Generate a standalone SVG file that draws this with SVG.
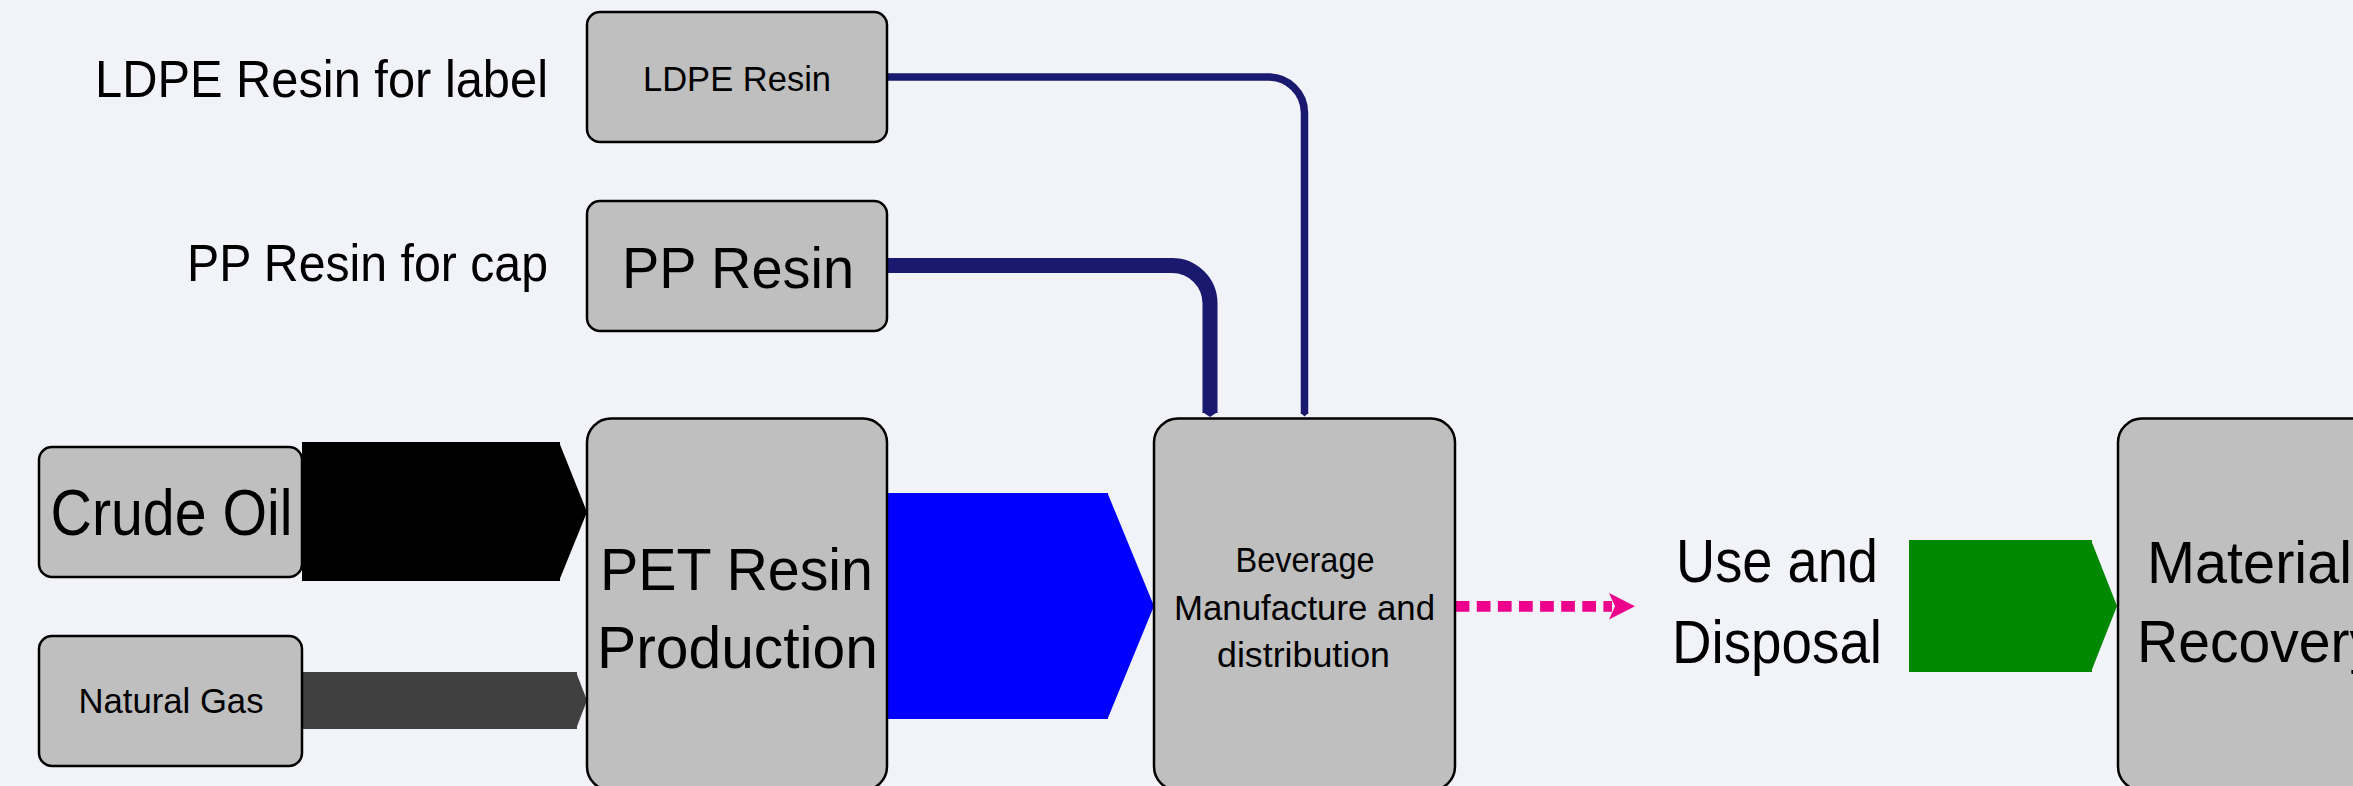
<svg xmlns="http://www.w3.org/2000/svg" width="2353" height="786" viewBox="0 0 2353 786">
<defs>
<style>
.box{fill:#bfbfbf;stroke:#000;stroke-width:2.5}
.t{font-family:"Liberation Sans",Arial,sans-serif;fill:#000}
.c{text-anchor:middle}
.e{text-anchor:end}
.nav{fill:none;stroke:#191970}
</style>
</defs>
<rect x="0" y="0" width="2353" height="786" fill="#f2f3f8"/>
<g id="connectors">
  <path class="nav" d="M887 77 H1268 A36 36 0 0 1 1304.5 113 V414" stroke-width="7.5"/>
  <polygon points="1300.8,413 1308.2,413 1304.5,416.5" fill="#191970"/>
  <path class="nav" d="M887 265.5 H1172 A38 38 0 0 1 1210 303.5 V413" stroke-width="15"/>
  <polygon points="1202.5,412 1217.5,412 1210,417" fill="#191970"/>
  <g id="crude-to-pet">
    <rect x="302" y="442" width="258" height="139" fill="#000"/>
    <polygon points="559,442 587,512 559,581" fill="#000"/>
  </g>
  <g id="gas-to-pet">
    <rect x="302" y="672" width="275" height="57" fill="#404040"/>
    <polygon points="576,672 587,700.5 576,729" fill="#404040"/>
  </g>
  <g id="pet-to-bev">
    <rect x="887" y="493" width="221" height="226" fill="#0000ff"/>
    <polygon points="1107.5,493 1154,606 1107.5,719" fill="#0000ff"/>
  </g>
  <g id="bev-to-use">
    <line x1="1455.7" y1="606.3" x2="1612" y2="606.3" stroke="#ec008c" stroke-width="10.7" stroke-dasharray="13.7 7.4"/>
    <polygon points="1609,593 1635,606.3 1609,619.6 1615,606.3" fill="#ec008c"/>
  </g>
  <g id="use-to-mat">
    <rect x="1909" y="540" width="183" height="132" fill="#008800"/>
    <polygon points="2091,540 2117,606 2091,672" fill="#008800"/>
  </g>
</g>
<g id="label-ldpe">
  <text class="t e" x="548" y="97" font-size="52" textLength="453" lengthAdjust="spacingAndGlyphs">LDPE Resin for label</text>
</g>
<g id="label-pp">
  <text class="t e" x="548" y="281" font-size="52" textLength="361" lengthAdjust="spacingAndGlyphs">PP Resin for cap</text>
</g>
<g id="node-ldpe">
  <rect class="box" x="587" y="12" width="300" height="130" rx="13"/>
  <text class="t c" x="737" y="90.5" font-size="35" textLength="188" lengthAdjust="spacingAndGlyphs">LDPE Resin</text>
</g>
<g id="node-pp">
  <rect class="box" x="587" y="201" width="300" height="130" rx="13"/>
  <text class="t c" x="738" y="288" font-size="57" textLength="232" lengthAdjust="spacingAndGlyphs">PP Resin</text>
</g>
<g id="node-crude">
  <rect class="box" x="39" y="447" width="263" height="130" rx="13"/>
  <text class="t c" x="171.5" y="535" font-size="64" textLength="242" lengthAdjust="spacingAndGlyphs">Crude Oil</text>
</g>
<g id="node-gas">
  <rect class="box" x="39" y="636" width="263" height="130" rx="13"/>
  <text class="t c" x="171" y="713" font-size="35" textLength="185" lengthAdjust="spacingAndGlyphs">Natural Gas</text>
</g>
<g id="node-pet">
  <rect class="box" x="587" y="418.5" width="300" height="372" rx="24"/>
  <text class="t c" x="736.5" y="590" font-size="60" textLength="273" lengthAdjust="spacingAndGlyphs">PET Resin</text>
  <text class="t c" x="737.5" y="668" font-size="60" textLength="281" lengthAdjust="spacingAndGlyphs">Production</text>
</g>
<g id="node-bev">
  <rect class="box" x="1154" y="418.5" width="301" height="372" rx="24"/>
  <text class="t c" x="1305" y="572" font-size="35" textLength="139" lengthAdjust="spacingAndGlyphs">Beverage</text>
  <text class="t c" x="1304.5" y="620" font-size="35" textLength="261" lengthAdjust="spacingAndGlyphs">Manufacture and</text>
  <text class="t c" x="1303.5" y="667" font-size="35" textLength="173" lengthAdjust="spacingAndGlyphs">distribution</text>
</g>
<g id="node-use">
  <text class="t c" x="1777" y="582" font-size="61" textLength="202" lengthAdjust="spacingAndGlyphs">Use and</text>
  <text class="t c" x="1777" y="663" font-size="61" textLength="210" lengthAdjust="spacingAndGlyphs">Disposal</text>
</g>
<g id="node-mat">
  <rect class="box" x="2118" y="418.5" width="300" height="372" rx="24"/>
  <text class="t" x="2147" y="583" font-size="60" textLength="205" lengthAdjust="spacingAndGlyphs">Material</text>
  <text class="t" x="2137" y="662" font-size="60" textLength="241" lengthAdjust="spacingAndGlyphs">Recovery</text>
</g>
</svg>
